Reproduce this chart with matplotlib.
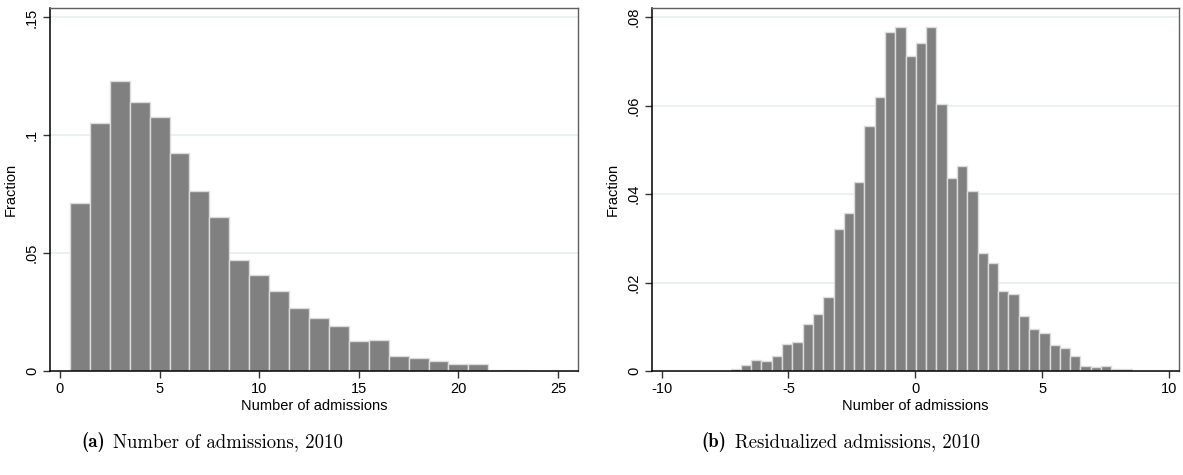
import matplotlib
matplotlib.use("Agg")
import matplotlib.pyplot as plt
import numpy as np

plt.rcParams['font.family'] = ['Liberation Sans', 'DejaVu Sans']
plt.rcParams['axes.unicode_minus'] = False

# ---- Data: panel (a) number of admissions (discrete, width-1 bins) ----
adm_values = list(range(1, 26))
adm_fraction = [0.0714, 0.1051, 0.1232, 0.1143, 0.1079, 0.0925, 0.0765, 0.0653,
                0.0469, 0.0408, 0.0341, 0.0268, 0.0225, 0.0190, 0.0127, 0.0132,
                0.0064, 0.0057, 0.0042, 0.0028, 0.0031, 0.0004, 0.0003, 0.0,
                0.0002]

# ---- Data: panel (b) residualized admissions (39 bins) ----
resid_bin_start = -7.28
resid_bin_width = 0.4057
resid_fraction = [0.0005, 0.0014, 0.0026, 0.0022, 0.0033, 0.0060, 0.0066, 0.0106,
                  0.0128, 0.0168, 0.0322, 0.0357, 0.0428, 0.0553, 0.0619, 0.0766,
                  0.0777, 0.0713, 0.0742, 0.0777, 0.0603, 0.0436, 0.0463, 0.0407,
                  0.0268, 0.0245, 0.0180, 0.0174, 0.0125, 0.0094, 0.0087, 0.0058,
                  0.0051, 0.0035, 0.0012, 0.0008, 0.0012, 0.0004, 0.0004]

left_yticks = [0, 0.05, 0.10, 0.15]
left_yticklabels = ['0', '.05', '.1', '.15']
left_xticks = [0, 5, 10, 15, 20, 25]
right_yticks = [0, 0.02, 0.04, 0.06, 0.08]
right_yticklabels = ['0', '.02', '.04', '.06', '.08']
right_xticks = [-10, -5, 0, 5, 10]

xlabel_text = 'Number of admissions'
ylabel_text = 'Fraction'
caption_a = ('(a)', 'Number of admissions, 2010')
caption_b = ('(b)', 'Residualized admissions, 2010')

BAR = '#808080'
EDGE = '#dcdcdc'
GRID = '#e8f0f0'

W, H = 1183, 475
fig = plt.figure(figsize=(W / 100, H / 100), dpi=100)
ax1 = fig.add_axes([50/W, 104/H, 528/W, 363/H])
ax2 = fig.add_axes([652/W, 104/H, 527/W, 363/H])


def style(ax, yticks, ylabels, xticks):
    ax.set_yticks(yticks)
    ax.set_yticklabels(ylabels, rotation=90, va='center')
    ax.set_xticks(xticks)
    ax.set_xticklabels([str(t) for t in xticks])
    ax.tick_params(axis='both', direction='out', length=5, width=1,
                   color='#333333', labelsize=10.5, labelcolor='black', pad=3)
    for y in yticks[1:]:
        ax.axhline(y, color=GRID, lw=1.3, zorder=0)
    ax.spines['left'].set_color('black')
    ax.spines['bottom'].set_color('black')
    ax.spines['left'].set_linewidth(1.1)
    ax.spines['bottom'].set_linewidth(1.1)
    ax.spines['top'].set_color('#606060')
    ax.spines['right'].set_color('#606060')
    ax.spines['top'].set_linewidth(1.0)
    ax.spines['right'].set_linewidth(1.0)
    ax.set_xlabel(xlabel_text, fontsize=10.5, labelpad=2)
    ax.set_ylabel(ylabel_text, fontsize=10.5, labelpad=5)


# Panel (a)
ax1.bar(adm_values, adm_fraction, width=1.0, color=BAR, edgecolor=EDGE,
        linewidth=1.0, zorder=2)
ax1.set_xlim(-0.5, 26.0)
ax1.set_ylim(0, 0.154)
style(ax1, left_yticks, left_yticklabels, left_xticks)

# Panel (b)
edges = resid_bin_start + resid_bin_width * np.arange(len(resid_fraction))
ax2.bar(edges, resid_fraction, width=resid_bin_width, align='edge', color=BAR,
        edgecolor=EDGE, linewidth=1.0, zorder=2)
ax2.set_xlim(-10.38, 10.4)
ax2.set_ylim(0, 0.0821)
style(ax2, right_yticks, right_yticklabels, right_xticks)

# Captions: bold label + roman text, centred as a unit
fig.canvas.draw()
renderer = fig.canvas.get_renderer()
cap_fs = 13.5
gap = 0.45 * cap_fs * 100 / 72
for (lab, txt), xc in ((caption_a, 212), (caption_b, 841)):
    t1 = fig.text(0, 28 / H, lab, family='cmb10', fontsize=cap_fs,
                  ha='left', va='baseline')
    t2 = fig.text(0, 28 / H, txt, family='cmr10', fontsize=cap_fs,
                  ha='left', va='baseline')
    w1 = t1.get_window_extent(renderer).width
    w2 = t2.get_window_extent(renderer).width
    x0 = xc - (w1 + gap + w2) / 2
    t1.set_x(x0 / W)
    t2.set_x((x0 + w1 + gap) / W)

fig.savefig('out.png', dpi=100)
